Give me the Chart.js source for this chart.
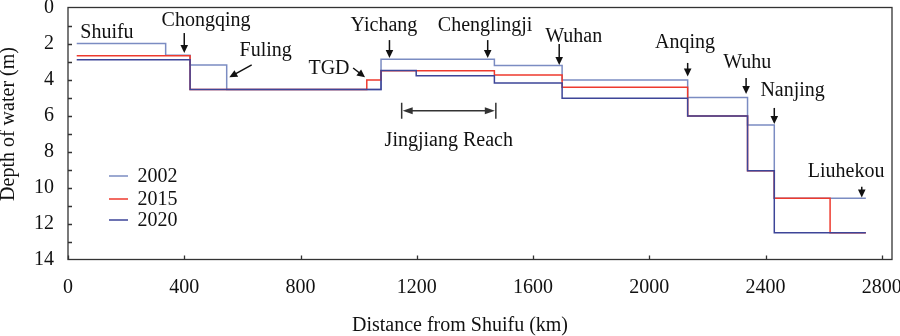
<!DOCTYPE html>
<html>
<head>
<meta charset="utf-8">
<script src="https://cdn.jsdelivr.net/npm/chart.js@4.4.1/dist/chart.umd.min.js"></script>
<style>
  html, body { margin: 0; padding: 0; background: #fff; }
  #chart { display: block; }
</style>
</head>
<body>
<canvas id="chart" width="900" height="336"></canvas>
<script>
// Depth of water along the river: each point starts a reach, held until the next one
const km2002 = [30, 336, 420, 546, 1077, 1467, 1700, 2132, 2338, 2430, 2745];
const depth2002 = [2.0, 2.65, 3.2, 4.55, 2.88, 3.22, 4.03, 5.0, 6.53, 10.6, 10.6];

const km2015 = [30, 420, 1028, 1077, 1467, 1700, 2132, 2338, 2430, 2622, 2745];
const depth2015 = [2.68, 4.55, 4.03, 3.52, 3.75, 4.43, 6.03, 9.07, 10.6, 12.51, 12.51];

const km2020 = [30, 420, 1077, 1198, 1467, 1700, 2132, 2338, 2430, 2745];
const depth2020 = [2.9, 4.55, 3.5, 3.79, 4.2, 5.04, 6.03, 9.07, 12.51, 12.51];

const xTicks = [0, 400, 800, 1200, 1600, 2000, 2400, 2800];
const yTicks = [0, 2, 4, 6, 8, 10, 12, 14];

// station names, placed in km / depth units (alphabetic baseline, centred)
const stationNames = ['Shuifu', 'Chongqing', 'Fuling', 'TGD', 'Yichang', 'Chenglingji', 'Wuhan', 'Anqing', 'Wuhu', 'Nanjing', 'Liuhekou'];
const labelKm = [134, 475, 680, 898, 1087, 1435, 1740, 2123, 2337, 2493, 2677];
const labelDepth = [1.69, 1.05, 2.71, 3.67, 1.31, 1.31, 1.92, 2.25, 3.36, 4.92, 9.4];

// pointer arrows [fromKm, fromDepth, toKm, toDepth]
const arrows = [
  [400, 1.42, 400, 2.53],     // Chongqing
  [632, 3.19, 555, 3.88],     // Fuling
  [981, 3.36, 1022, 3.88],    // TGD
  [1106, 1.81, 1106, 2.81],   // Yichang
  [1444, 1.81, 1444, 2.81],   // Chenglingji
  [1690, 2.03, 1690, 3.19],   // Wuhan
  [2132, 3.08, 2132, 3.84],   // Anqing
  [2333, 3.92, 2333, 4.81],   // Wuhu
  [2430, 5.58, 2430, 6.47],   // Nanjing
  [2731, 9.96, 2731, 10.56]   // Liuhekou
];

// Jingjiang Reach span
const reachKm = [1148, 1472];
const reachDepth = 5.73;

const COLOR_2002 = '#7b8cc2';
const COLOR_2015 = '#ee3a2e';
const COLOR_2020 = '#3d4598';
const INK = '#111';
const FONT = "'Liberation Serif', 'Times New Roman', serif";

Chart.defaults.font.family = FONT;
Chart.defaults.font.size = 20;
Chart.defaults.color = INK;

const toPoints = (xs, ys) => xs.map((x, i) => ({ x, y: ys[i] }));

function arrowHead(ctx, x0, y0, x1, y1, len, half) {
  const a = Math.atan2(y1 - y0, x1 - x0);
  const c = Math.cos(a), s = Math.sin(a);
  ctx.beginPath();
  ctx.moveTo(x1, y1);
  ctx.lineTo(x1 - len * c + half * s, y1 - len * s - half * c);
  ctx.lineTo(x1 - len * c - half * s, y1 - len * s + half * c);
  ctx.closePath();
  ctx.fill();
}

function arrow(ctx, x0, y0, x1, y1, len, half) {
  const a = Math.atan2(y1 - y0, x1 - x0);
  ctx.beginPath();
  ctx.moveTo(x0, y0);
  ctx.lineTo(x1 - (len - 1) * Math.cos(a), y1 - (len - 1) * Math.sin(a));
  ctx.stroke();
  arrowHead(ctx, x0, y0, x1, y1, len, half);
}

const overlay = {
  id: 'overlay',
  afterDatasetsDraw(chart) {
    const { ctx, chartArea: area, scales: { x, y } } = chart;
    ctx.save();

    // frame and inward ticks
    ctx.strokeStyle = '#333';
    ctx.lineWidth = 1.3;
    ctx.strokeRect(area.left, area.top, area.right - area.left, area.bottom - area.top);
    ctx.beginPath();
    for (let v = 1; v < 14; v++) {
      const py = Math.round(y.getPixelForValue(v)) + 0.5;
      ctx.moveTo(area.left, py);
      ctx.lineTo(area.left + 4, py);
    }
    xTicks.forEach(v => {
      const px = Math.round(x.getPixelForValue(v)) + 0.5;
      ctx.moveTo(px, area.bottom);
      ctx.lineTo(px, area.bottom - 4);
    });
    ctx.stroke();

    // station labels
    ctx.fillStyle = INK;
    ctx.font = '20px ' + FONT;
    ctx.textAlign = 'center';
    ctx.textBaseline = 'alphabetic';
    stationNames.forEach((name, i) => {
      ctx.fillText(name, x.getPixelForValue(labelKm[i]), y.getPixelForValue(labelDepth[i]));
    });

    // arrows
    ctx.strokeStyle = INK;
    ctx.lineWidth = 1.5;
    arrows.forEach(([k0, d0, k1, d1]) => {
      arrow(ctx, x.getPixelForValue(k0), y.getPixelForValue(d0),
        x.getPixelForValue(k1), y.getPixelForValue(d1), 8, 3.8);
    });

    // Jingjiang Reach double arrow
    const rx0 = x.getPixelForValue(reachKm[0]);
    const rx1 = x.getPixelForValue(reachKm[1]);
    const ry = y.getPixelForValue(reachDepth);
    ctx.strokeStyle = '#333';
    ctx.fillStyle = '#333';
    ctx.beginPath();
    ctx.moveTo(rx0 + 8, ry);
    ctx.lineTo(rx1 - 8, ry);
    ctx.moveTo(rx0, ry - 8);
    ctx.lineTo(rx0, ry + 8);
    ctx.moveTo(rx1, ry - 8);
    ctx.lineTo(rx1, ry + 8);
    ctx.stroke();
    arrowHead(ctx, rx1, ry, rx0 + 1, ry, 10, 3.5);
    arrowHead(ctx, rx0, ry, rx1 - 1, ry, 10, 3.5);
    ctx.fillStyle = INK;
    ctx.fillText('Jingjiang Reach', (rx0 + rx1) / 2, y.getPixelForValue(7.69));

    // legend
    const legendY = [176, 199, 220];
    chart.data.datasets.forEach((ds, i) => {
      ctx.strokeStyle = ds.borderColor;
      ctx.lineWidth = 1.5;
      ctx.beginPath();
      ctx.moveTo(109, legendY[i]);
      ctx.lineTo(128, legendY[i]);
      ctx.stroke();
      ctx.fillStyle = INK;
      ctx.textAlign = 'left';
      ctx.textBaseline = 'middle';
      ctx.fillText(ds.label, 137.5, legendY[i] + 1);
    });

    // axis titles
    ctx.textAlign = 'center';
    ctx.textBaseline = 'alphabetic';
    ctx.fillText('Distance from Shuifu (km)', 460, 330.5);
    ctx.translate(14, 124);
    ctx.rotate(-Math.PI / 2);
    ctx.fillText('Depth of water (m)', 0, 0);

    ctx.restore();
  }
};

const lineStyle = { stepped: true, borderWidth: 1.5, pointRadius: 0, fill: false };

new Chart(document.getElementById('chart'), {
  type: 'line',
  data: {
    datasets: [
      { label: '2002', data: toPoints(km2002, depth2002), borderColor: COLOR_2002, order: 3, ...lineStyle },
      { label: '2015', data: toPoints(km2015, depth2015), borderColor: COLOR_2015, order: 2, ...lineStyle },
      { label: '2020', data: toPoints(km2020, depth2020), borderColor: COLOR_2020, order: 1, ...lineStyle }
    ]
  },
  options: {
    responsive: false,
    animation: false,
    layout: { padding: { top: 7.5, right: 8, left: 0, bottom: 0 } },
    plugins: { legend: { display: false }, tooltip: { enabled: false } },
    scales: {
      x: {
        type: 'linear',
        min: 0,
        max: 2835,
        grid: { display: false, drawTicks: false },
        border: { display: false },
        ticks: { padding: 16, maxRotation: 0, color: INK, callback: v => String(v) },
        afterBuildTicks: s => { s.ticks = xTicks.map(v => ({ value: v })); },
        afterFit: s => { s.height = 76.5; s.paddingLeft = 0; s.paddingRight = 0; }
      },
      y: {
        type: 'linear',
        reverse: true,
        min: 0,
        max: 14,
        grid: { display: false, drawTicks: false },
        border: { display: false },
        ticks: { padding: 14, color: INK, callback: v => String(v) },
        afterBuildTicks: s => { s.ticks = yTicks.map(v => ({ value: v })); },
        afterFit: s => { s.width = 68; s.paddingTop = 0; s.paddingBottom = 0; }
      }
    }
  },
  plugins: [overlay]
});
</script>
</body>
</html>
